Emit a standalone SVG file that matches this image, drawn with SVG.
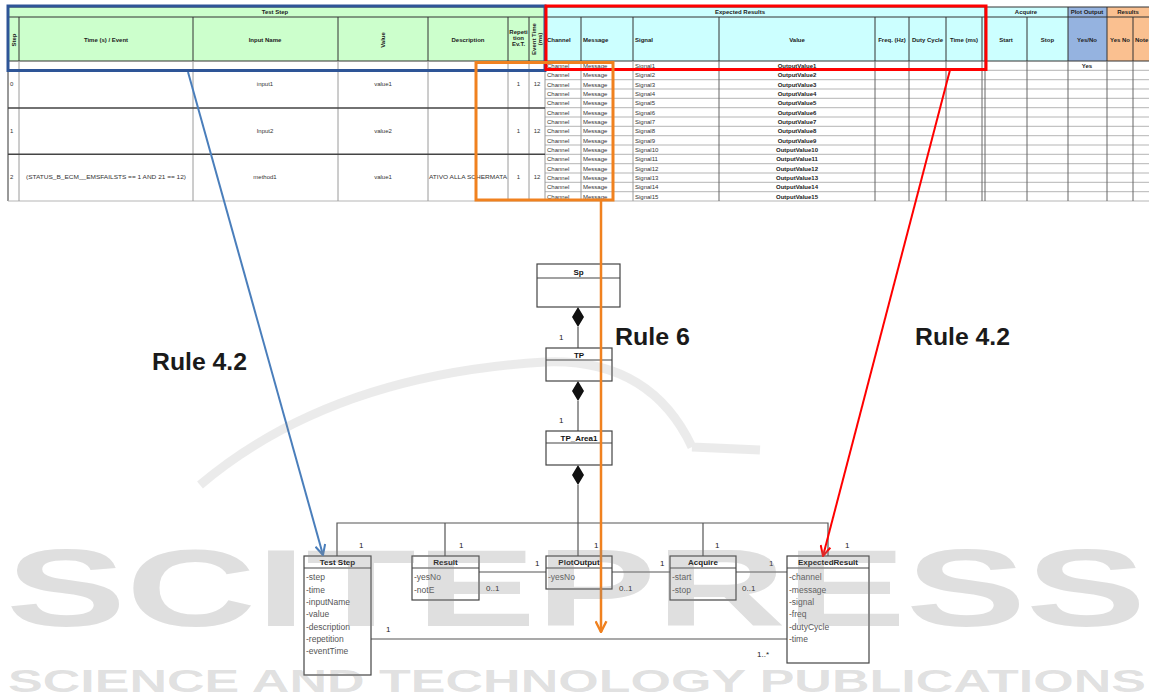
<svg xmlns="http://www.w3.org/2000/svg" width="1149" height="699" viewBox="0 0 1149 699">
<style>
text{font-family:"Liberation Sans",Arial,sans-serif}
.h{font-size:6px;font-weight:bold;fill:#222}
.hc{font-size:6px;font-weight:bold;fill:#222;text-anchor:middle}
.d{font-size:6px;fill:#333}
.dc{font-size:6px;fill:#333;text-anchor:middle}
.db{font-size:6px;font-weight:bold;fill:#222;text-anchor:middle}
.grid{stroke:#b5b5b5;stroke-width:1}
.vd{stroke:#666;stroke-width:1}
.vl{stroke:#9a9a9a;stroke-width:1}
.hb{stroke:#333;stroke-width:1}
.box{fill:#fff;stroke:#444;stroke-width:1.2}
.t{font-size:8px;font-weight:bold;fill:#111;text-anchor:middle}
.a{font-size:8.5px;fill:#555}
.m{font-size:8px;fill:#222}
.con{stroke:#555;stroke-width:1.2;fill:none}
.rule{font-size:24px;font-weight:bold;fill:#1a1a1a}
.wm{fill:#8a8a8a;fill-opacity:0.27;font-weight:bold}
</style>
<defs>
<marker id="ab" viewBox="0 0 12 12" refX="11" refY="6" markerWidth="12" markerHeight="12" markerUnits="userSpaceOnUse" orient="auto"><path d="M1,1 L11,6 L1,11" fill="none" stroke="#4a7ebb" stroke-width="2"/></marker>
<marker id="ar" viewBox="0 0 12 12" refX="11" refY="6" markerWidth="12" markerHeight="12" markerUnits="userSpaceOnUse" orient="auto"><path d="M1,1 L11,6 L1,11" fill="none" stroke="#ff0000" stroke-width="2"/></marker>
<marker id="ao" viewBox="0 0 12 12" refX="11" refY="6" markerWidth="13" markerHeight="13" markerUnits="userSpaceOnUse" orient="auto"><path d="M1,1 L11,6 L1,11" fill="none" stroke="#f0811f" stroke-width="2.2"/></marker>
</defs>

<g id="table">
<rect x="8" y="7" width="1141" height="194" fill="#fff"/>
<rect x="8" y="7" width="537" height="54" fill="#ccffcc"/>
<rect x="545" y="7" width="440" height="54" fill="#ccffff"/>
<rect x="985" y="7" width="83" height="54" fill="#ccffff"/>
<rect x="1068" y="7" width="39" height="54" fill="#95b3e0"/>
<rect x="1107" y="7" width="42" height="54" fill="#fac090"/>
<path class="hb" d="M8,7 H1149 M8,17 H1149 M8,61 H1149 M8,7 V201 M545,7 V61 M985,7 V61 M1068,7 V61 M1107,7 V61"/>
<path class="hb" d="M19,17 V61 M193,17 V61 M338,17 V61 M428,17 V61 M508,17 V61 M529,17 V61 M581,17 V61 M633,17 V61 M719,17 V61 M875,17 V61 M909,17 V61 M946,17 V61 M982,17 V61 M1027,17 V61 M1133,17 V61"/>
<text class="hc" x="275" y="14">Test Step</text>
<text class="hc" x="740" y="14">Expected Results</text>
<text class="hc" x="1026" y="14">Acquire</text>
<text class="hc" x="1087" y="14">Plot Output</text>
<text class="hc" x="1128" y="14">Results</text>
<text class="hc" transform="translate(15.5,40) rotate(-90)">Step</text>
<text class="hc" x="106" y="42">Time (s) / Event</text>
<text class="hc" x="265" y="42">Input Name</text>
<text class="hc" transform="translate(385,40) rotate(-90)">Value</text>
<text class="hc" x="468" y="42">Description</text>
<text class="hc" x="518.5" y="34" font-size="5">Repeti</text>
<text class="hc" x="518.5" y="40" font-size="5">tion</text>
<text class="hc" x="518.5" y="46" font-size="5">Ev.T.</text>
<text class="hc" transform="translate(536,39) rotate(-90)" font-size="5">Event Time</text>
<text class="hc" transform="translate(542,39) rotate(-90)" font-size="5">(ms)</text>
<text class="h" x="547" y="42">Channel</text>
<text class="h" x="583" y="42">Message</text>
<text class="h" x="635" y="42">Signal</text>
<text class="hc" x="797" y="42">Value</text>
<text class="hc" x="892" y="42">Freq. (Hz)</text>
<text class="hc" x="927.5" y="42">Duty Cycle</text>
<text class="hc" x="964" y="42">Time (ms)</text>
<text class="hc" x="1006" y="42">Start</text>
<text class="hc" x="1047.5" y="42">Stop</text>
<text class="hc" x="1087" y="42">Yes/No</text>
<text class="hc" x="1120" y="42">Yes No</text>
<text class="h" x="1135" y="42">Note</text>

<path class="grid" d="M545,70.3 H1149 M545,79.7 H1149 M545,89 H1149 M545,98.3 H1149 M545,107.7 H1149 M545,117 H1149 M545,126.3 H1149 M545,135.7 H1149 M545,145 H1149 M545,154.3 H1149 M545,163.7 H1149 M545,173 H1149 M545,182.3 H1149 M545,191.7 H1149 M8,201 H1149 M8,70 H545"/>
<path class="vl" d="M19,61 V201 M193,61 V201 M338,61 V201 M428,61 V201 M508,61 V201 M529,61 V201 M545,61 V201 M581,61 V201 M633,61 V201"/>
<path class="vd" d="M719,61 V201 M875,61 V201 M909,61 V201 M946,61 V201 M982,61 V201 M985,61 V201 M1027,61 V201 M1068,61 V201 M1107,61 V201 M1133,61 V201"/>
<path d="M8,108 H545 M8,154.3 H545" stroke="#444" stroke-width="1.6"/>

<text class="d" x="10" y="86">0</text>
<text class="d" x="10" y="133">1</text>
<text class="d" x="10" y="179">2</text>
<text class="d" x="26" y="179" textLength="160" lengthAdjust="spacingAndGlyphs">(STATUS_B_ECM__EMSFAILSTS == 1  AND 21 == 12)</text>
<text class="dc" x="265" y="86">input1</text>
<text class="dc" x="265" y="133">Input2</text>
<text class="dc" x="265" y="179">method1</text>
<text class="dc" x="383" y="86">value1</text>
<text class="dc" x="383" y="133">value2</text>
<text class="dc" x="383" y="179">value1</text>
<text class="d" x="429" y="179" textLength="78" lengthAdjust="spacingAndGlyphs">ATIVO ALLA SCHERMATA</text>
<text class="dc" x="518.5" y="86">1</text>
<text class="dc" x="518.5" y="133">1</text>
<text class="dc" x="518.5" y="179">1</text>
<text class="dc" x="537" y="86">12</text>
<text class="dc" x="537" y="133">12</text>
<text class="dc" x="537" y="179">12</text>

<g class="d">
<text x="547" y="67.8">Channel</text><text x="583" y="67.8">Message</text><text x="635" y="67.8">Signal1</text>
<text x="547" y="77.1">Channel</text><text x="583" y="77.1">Message</text><text x="635" y="77.1">Signal2</text>
<text x="547" y="86.5">Channel</text><text x="583" y="86.5">Message</text><text x="635" y="86.5">Signal3</text>
<text x="547" y="95.8">Channel</text><text x="583" y="95.8">Message</text><text x="635" y="95.8">Signal4</text>
<text x="547" y="105.1">Channel</text><text x="583" y="105.1">Message</text><text x="635" y="105.1">Signal5</text>
<text x="547" y="114.5">Channel</text><text x="583" y="114.5">Message</text><text x="635" y="114.5">Signal6</text>
<text x="547" y="123.8">Channel</text><text x="583" y="123.8">Message</text><text x="635" y="123.8">Signal7</text>
<text x="547" y="133.1">Channel</text><text x="583" y="133.1">Message</text><text x="635" y="133.1">Signal8</text>
<text x="547" y="142.5">Channel</text><text x="583" y="142.5">Message</text><text x="635" y="142.5">Signal9</text>
<text x="547" y="151.8">Channel</text><text x="583" y="151.8">Message</text><text x="635" y="151.8">Signal10</text>
<text x="547" y="161.1">Channel</text><text x="583" y="161.1">Message</text><text x="635" y="161.1">Signal11</text>
<text x="547" y="170.5">Channel</text><text x="583" y="170.5">Message</text><text x="635" y="170.5">Signal12</text>
<text x="547" y="179.8">Channel</text><text x="583" y="179.8">Message</text><text x="635" y="179.8">Signal13</text>
<text x="547" y="189.1">Channel</text><text x="583" y="189.1">Message</text><text x="635" y="189.1">Signal14</text>
<text x="547" y="198.5">Channel</text><text x="583" y="198.5">Message</text><text x="635" y="198.5">Signal15</text>
</g>
<g class="db">
<text x="797" y="67.8">OutputValue1</text>
<text x="797" y="77.1">OutputValue2</text>
<text x="797" y="86.5">OutputValue3</text>
<text x="797" y="95.8">OutputValue4</text>
<text x="797" y="105.1">OutputValue5</text>
<text x="797" y="114.5">OutputValue6</text>
<text x="797" y="123.8">OutputValue7</text>
<text x="797" y="133.1">OutputValue8</text>
<text x="797" y="142.5">OutputValue9</text>
<text x="797" y="151.8">OutputValue10</text>
<text x="797" y="161.1">OutputValue11</text>
<text x="797" y="170.5">OutputValue12</text>
<text x="797" y="179.8">OutputValue13</text>
<text x="797" y="189.1">OutputValue14</text>
<text x="797" y="198.5">OutputValue15</text>
<text x="1087" y="67.8">Yes</text>
</g>
</g>

<g id="frames" fill="none">
<rect x="8" y="6" width="537" height="64.5" stroke="#2e5597" stroke-width="3"/>
<rect x="546" y="6" width="440" height="63.5" stroke="#ff0000" stroke-width="3"/>
<rect x="476" y="62.5" width="137" height="137.5" stroke="#f0811f" stroke-width="3"/>
</g>

<g id="connectors">
<path class="con" d="M578,327 V348"/>
<path class="con" d="M578,401 V431"/>
<path class="con" d="M578,485 V556"/>
<path d="M578,307 L584,317 L578,327 L572,317 Z M578,381 L584,391 L578,401 L572,391 Z M578,465 L584,475 L578,485 L572,475 Z" fill="#111"/>
<path class="con" d="M337,556 V523 H828 V556 M445,523 V556 M703,523 V556"/>
<path class="con" d="M479,572 H546 M612,572 H670 M736,572 H787 M371,639 H787"/>
<text class="m" x="559" y="340">1</text>
<text class="m" x="559" y="423">1</text>
<text class="m" x="359" y="548">1</text>
<text class="m" x="459" y="548">1</text>
<text class="m" x="594" y="548">1</text>
<text class="m" x="715" y="548">1</text>
<text class="m" x="845" y="548">1</text>
<text class="m" x="535" y="566">1</text>
<text class="m" x="660" y="566">1</text>
<text class="m" x="769" y="566">1</text>
<text class="m" x="486" y="591">0..1</text>
<text class="m" x="619" y="591">0..1</text>
<text class="m" x="742" y="591">0..1</text>
<text class="m" x="386" y="632">1</text>
<text class="m" x="757" y="657">1..*</text>
</g>

<g id="node-sp">
<rect class="box" x="537" y="264" width="83" height="43"/>
<line x1="537" y1="278" x2="620" y2="278" stroke="#444" stroke-width="1.2"/>
<text class="t" x="578.5" y="274.5">Sp</text>
</g>
<g id="node-tp">
<rect class="box" x="546" y="348" width="66" height="33"/>
<line x1="546" y1="360" x2="612" y2="360" stroke="#444" stroke-width="1.2"/>
<text class="t" x="579" y="357.5">TP</text>
</g>
<g id="node-tparea1">
<rect class="box" x="546" y="431" width="66" height="34"/>
<line x1="546" y1="443" x2="612" y2="443" stroke="#444" stroke-width="1.2"/>
<text class="t" x="579" y="440.5">TP_Area1</text>
</g>
<g id="node-teststep">
<rect class="box" x="304" y="556" width="67" height="119"/>
<line x1="304" y1="568" x2="371" y2="568" stroke="#444" stroke-width="1.2"/>
<text class="t" x="337.5" y="565">Test Step</text>
<text class="a" x="306" y="580">-step</text>
<text class="a" x="306" y="592.5">-time</text>
<text class="a" x="306" y="605">-inputName</text>
<text class="a" x="306" y="617">-value</text>
<text class="a" x="306" y="629.5">-description</text>
<text class="a" x="306" y="642">-repetition</text>
<text class="a" x="306" y="654">-eventTime</text>
</g>
<g id="node-result">
<rect class="box" x="412" y="556" width="67" height="44"/>
<line x1="412" y1="568" x2="479" y2="568" stroke="#444" stroke-width="1.2"/>
<text class="t" x="445.5" y="565">Result</text>
<text class="a" x="414" y="580">-yesNo</text>
<text class="a" x="414" y="592.5">-notE</text>
</g>
<g id="node-plotoutput">
<rect class="box" x="546" y="556" width="66" height="33"/>
<line x1="546" y1="568" x2="612" y2="568" stroke="#444" stroke-width="1.2"/>
<text class="t" x="579" y="565">PlotOutput</text>
<text class="a" x="548" y="580">-yesNo</text>
</g>
<g id="node-acquire">
<rect class="box" x="670" y="556" width="66" height="44"/>
<line x1="670" y1="568" x2="736" y2="568" stroke="#444" stroke-width="1.2"/>
<text class="t" x="703" y="565">Acquire</text>
<text class="a" x="672" y="580">-start</text>
<text class="a" x="672" y="592.5">-stop</text>
</g>
<g id="node-expectedresult">
<rect class="box" x="787" y="556" width="82" height="107"/>
<line x1="787" y1="568" x2="869" y2="568" stroke="#444" stroke-width="1.2"/>
<text class="t" x="828" y="565">ExpectedResult</text>
<text class="a" x="789" y="580">-channel</text>
<text class="a" x="789" y="592.5">-message</text>
<text class="a" x="789" y="605">-signal</text>
<text class="a" x="789" y="617">-freq</text>
<text class="a" x="789" y="629.5">-dutyCycle</text>
<text class="a" x="789" y="642">-time</text>
</g>

<g id="rule-arrows" fill="none">
<path d="M188,72 L323,555" stroke="#4a7ebb" stroke-width="2" marker-end="url(#ab)"/>
<path d="M950,70 L823,556" stroke="#ff0000" stroke-width="2" marker-end="url(#ar)"/>
<path d="M601,200 L601,632" stroke="#f0811f" stroke-width="2.5" marker-end="url(#ao)"/>
</g>
<g id="rule-labels">
<text class="rule" x="152" y="370" textLength="95" lengthAdjust="spacingAndGlyphs">Rule 4.2</text>
<text class="rule" x="615" y="345" textLength="75" lengthAdjust="spacingAndGlyphs">Rule 6</text>
<text class="rule" x="915" y="345" textLength="95" lengthAdjust="spacingAndGlyphs">Rule 4.2</text>
</g>

<g id="watermark">
<path d="M200,485 Q330,375 545,362 Q650,358 692,447 M692,447 L760,450" fill="none" stroke="#8a8a8a" stroke-opacity="0.17" stroke-width="9"/>
<text x="6" y="626" font-size="110" class="wm" textLength="1140" lengthAdjust="spacingAndGlyphs">SCITEPRESS</text>
<text x="8" y="692" font-size="32" class="wm" textLength="1138" lengthAdjust="spacingAndGlyphs">SCIENCE AND TECHNOLOGY PUBLICATIONS</text>
</g>
</svg>
